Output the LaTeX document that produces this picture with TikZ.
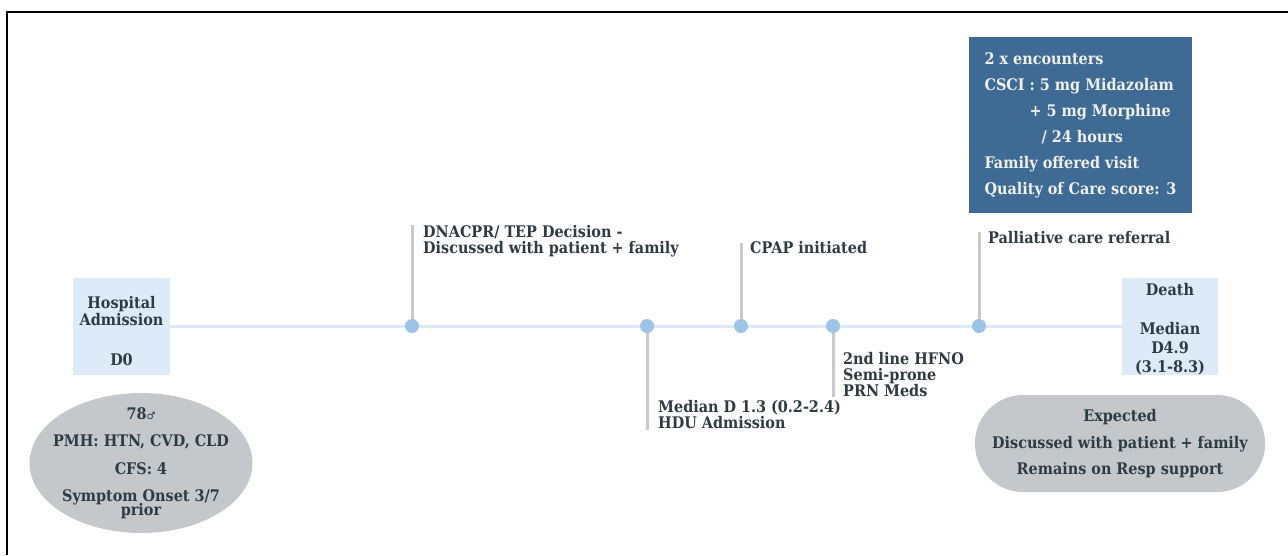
\documentclass[tikz,border=0pt]{standalone}
\usepackage{fontspec}
\setmainfont{DejaVu Serif Condensed}
\newfontfamily\symfont{DejaVu Sans}
\usetikzlibrary{shapes.geometric,backgrounds}
\definecolor{tlc}{HTML}{DCE9F7}
\definecolor{dotc}{HTML}{9DC3E6}
\definecolor{vlc}{HTML}{C9C9C9}
\definecolor{dayc}{HTML}{DDEAF8}
\definecolor{grayc}{HTML}{C4C8CB}
\definecolor{bluec}{HTML}{3E6A94}
\definecolor{txtc}{HTML}{2E3B42}
\tikzset{
  lbl/.style={font=\fontsize{16}{16}\selectfont\bfseries, text=txtc, inner sep=0pt, align=left},
  daybox/.style={fill=dayc, draw=none, minimum width=97pt, minimum height=97pt, inner sep=0pt},
  tl/.style={draw=tlc, line width=3.5pt},
  vl/.style={draw=vlc, line width=3pt},
  evdot/.style={circle, fill=dotc, minimum size=14pt, inner sep=0pt},
  oval/.style={ellipse, fill=grayc, minimum width=223pt, minimum height=140pt, inner sep=0pt},
  pill/.style={fill=grayc, rounded corners=48pt, minimum width=290pt, minimum height=97pt, inner sep=0pt},
  carebox/.style={fill=bluec, minimum width=223pt, minimum height=176pt, inner sep=0pt, text=white!94!black, font=\fontsize{16}{26}\selectfont\bfseries, align=left}
}
\begin{document}
\begin{tikzpicture}[x=1pt,y=-1pt]
\useasboundingbox (0,0) rectangle (1288,555);
\draw[line width=2pt] (7,555) -- (7,12) -- (1288,12);

% day boxes
\node[daybox] (hosp) at (121.5,326.5) {};
\node[lbl, align=center, font=\fontsize{16}{14}\selectfont\bfseries] (hosptxt) at (121.5,311) {Hospital\\Admission};
\node[lbl] (d0) at (121.5,360) {D0};
\node[daybox, minimum width=96pt] (death) at (1170,326.5) {};
\node[lbl, align=center, font=\fontsize{16}{19}\selectfont\bfseries] (deathtxt) at (1170,329) {Death\\[20pt]Median\\D4.9\\(3.1-8.3)};

% event points
\node[evdot] (e1) at (412,326) {};
\node[evdot] (e2) at (647,326) {};
\node[evdot] (e3) at (741,326) {};
\node[evdot] (e4) at (833,326) {};
\node[evdot] (e5) at (979,326) {};

\coordinate (e1t) at (412,225);
\coordinate (e2b) at (647,430);
\coordinate (e3t) at (741,243);
\coordinate (e4b) at (833,397);
\coordinate (e5t) at (979,232);

\begin{pgfonlayer}{background}
\draw[tl] (hosp.east) -- (death.west);
\draw[vl] (e1.center) -- (e1t);
\draw[vl] (e2.center) -- (e2b);
\draw[vl] (e3.center) -- (e3t);
\draw[vl] (e4.center) -- (e4b);
\draw[vl] (e5.center) -- (e5t);
\end{pgfonlayer}

% labels
\node[lbl, anchor=north west] (l1) at (423,225) {DNACPR/ TEP Decision -\\Discussed with patient + family};
\node[lbl, anchor=north west] (l3) at (750,241) {CPAP initiated};
\node[lbl, anchor=north west] (l5) at (988,231) {Palliative care referral};
\node[lbl, anchor=north west] (l2) at (658,400) {Median D 1.3 (0.2-2.4)\\HDU Admission};
\node[lbl, anchor=north west] (l4) at (843,352) {2nd line HFNO\\Semi-prone\\PRN Meds};

% care box
\node[carebox] (care) at (1080.5,125) {2 x encounters\\CSCI : 5 mg Midazolam\\\hspace*{45pt}+ 5 mg Morphine\\\hspace*{57pt}/ 24 hours\\Family offered visit\\Quality of Care score: 3};

% patient oval
\node[oval] (pt) at (141,463) {};
\node[lbl, align=center, font=\fontsize{16}{27.5}\selectfont\bfseries] (pttxt) at (141,463) {78{\symfont\mdseries\fontsize{10}{10}\selectfont ♂}\\PMH: HTN, CVD, CLD\\CFS: 4\\Symptom Onset 3/7\\[-14pt]prior};

% outcome pill
\node[pill] (out) at (1120,443.5) {};
\node[lbl, align=center, font=\fontsize{16}{26.5}\selectfont\bfseries] (outtxt) at (1120,444) {Expected\\Discussed with patient + family\\Remains on Resp support};
\end{tikzpicture}
\end{document}
